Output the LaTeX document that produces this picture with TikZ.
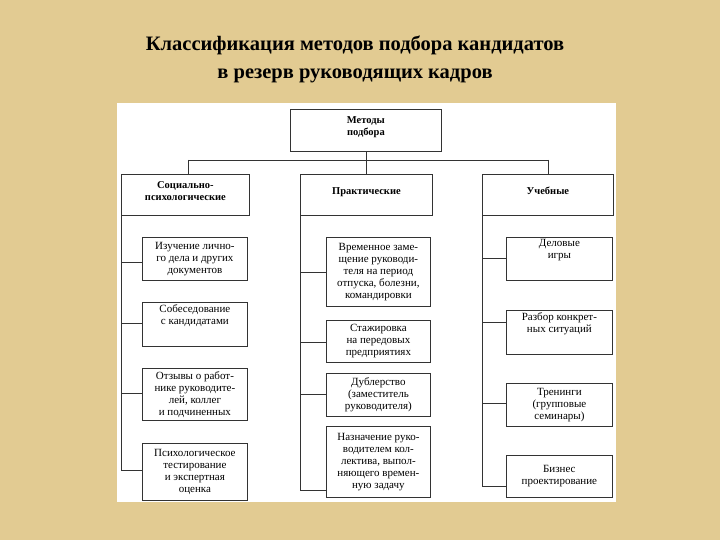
\documentclass[tikz,border=0pt]{standalone}
\usepackage{fontspec}
\setmainfont{Liberation Serif}
\definecolor{parch}{RGB}{226,203,146}
\begin{document}
\begin{tikzpicture}[x=1pt,y=-1pt,
  bx/.style={draw=black!80,line width=0.8pt,fill=white,anchor=north west,align=center,inner sep=1pt,font=\fontsize{11}{12}\selectfont},
  hd/.style={bx,font=\fontsize{10.5}{12}\selectfont\bfseries},
  ln/.style={draw=black!80,line width=0.8pt}]
\fill[parch] (0,0) rectangle (720,540);
\fill[white] (117,103) rectangle (616,502);
\useasboundingbox (0,0) rectangle (720,540);
\node[font=\fontsize{20.5}{28}\selectfont\bfseries,align=center] (title) at (355,59) {Классификация методов подбора кандидатов\\в резерв руководящих кадров};
\node[hd,minimum width=151,minimum height=42] (top) at (290,109) {Методы\\подбора\\[-4pt]};
\node[hd,minimum width=128,minimum height=41] (c1) at (121,174) {Социально-\\психологические\\[-4pt]};
\node[hd,minimum width=132,minimum height=41] (c2) at (300,174) {Практические\\[-4pt]};
\node[hd,minimum width=131,minimum height=41] (c3) at (482,174) {Учебные\\[-4pt]};
\coordinate (j) at (top.south |- 0,160);
\draw[ln] (top.south) -- (j);
\draw[ln] (188,160) -- (548,160);
\draw[ln] (188,160) -- (c1.north -| 188,0);
\draw[ln] (j) -- (j |- c2.north);
\draw[ln] (548,160) -- (c3.north -| 548,0);
% left column
\node[bx,minimum width=105,minimum height=43] (a1) at (142,237) {Изучение лично-\\го дела и других\\документов};
\node[bx,minimum width=105,minimum height=44] (a2) at (142,302) {Собеседование\\с кандидатами\\[8pt]};
\node[bx,minimum width=105,minimum height=52] (a3) at (142,368) {Отзывы о работ-\\нике руководите-\\лей, коллег\\и подчиненных};
\node[bx,minimum width=105,minimum height=57] (a4) at (142,443) {Психологическое\\тестирование\\и экспертная\\оценка};
\draw[ln] (c1.south west) -- (121,470);
\foreach \n/\y in {a1/262,a2/323,a3/393,a4/470} \draw[ln] (121,\y) -- (\n.west |- 0,\y);
% middle column
\node[bx,minimum width=104,minimum height=69] (b1) at (326,237) {Временное заме-\\щение руководи-\\теля на период\\отпуска, болезни,\\командировки};
\node[bx,minimum width=104,minimum height=42] (b2) at (326,320) {Стажировка\\на передовых\\предприятиях};
\node[bx,minimum width=104,minimum height=43] (b3) at (326,373) {Дублерство\\(заместитель\\руководителя)};
\node[bx,minimum width=104,minimum height=71] (b4) at (326,426) {Назначение руко-\\водителем кол-\\лектива, выпол-\\няющего времен-\\ную задачу};
\draw[ln] (c2.south west) -- (300,490);
\foreach \n/\y in {b1/272,b2/342,b3/394,b4/490} \draw[ln] (300,\y) -- (\n.west |- 0,\y);
% right column
\node[bx,minimum width=106,minimum height=43] (d1) at (506,237) {Деловые\\игры\\[8pt]};
\node[bx,minimum width=106,minimum height=44] (d2) at (506,310) {Разбор конкрет-\\ных ситуаций\\[8pt]};
\node[bx,minimum width=106,minimum height=43] (d3) at (506,383) {Тренинги\\(групповые\\семинары)};
\node[bx,minimum width=106,minimum height=42] (d4) at (506,455) {Бизнес\\проектирование};
\draw[ln] (c3.south west) -- (482,486);
\foreach \n/\y in {d1/258,d2/322,d3/403,d4/486} \draw[ln] (482,\y) -- (\n.west |- 0,\y);
\end{tikzpicture}
\end{document}
